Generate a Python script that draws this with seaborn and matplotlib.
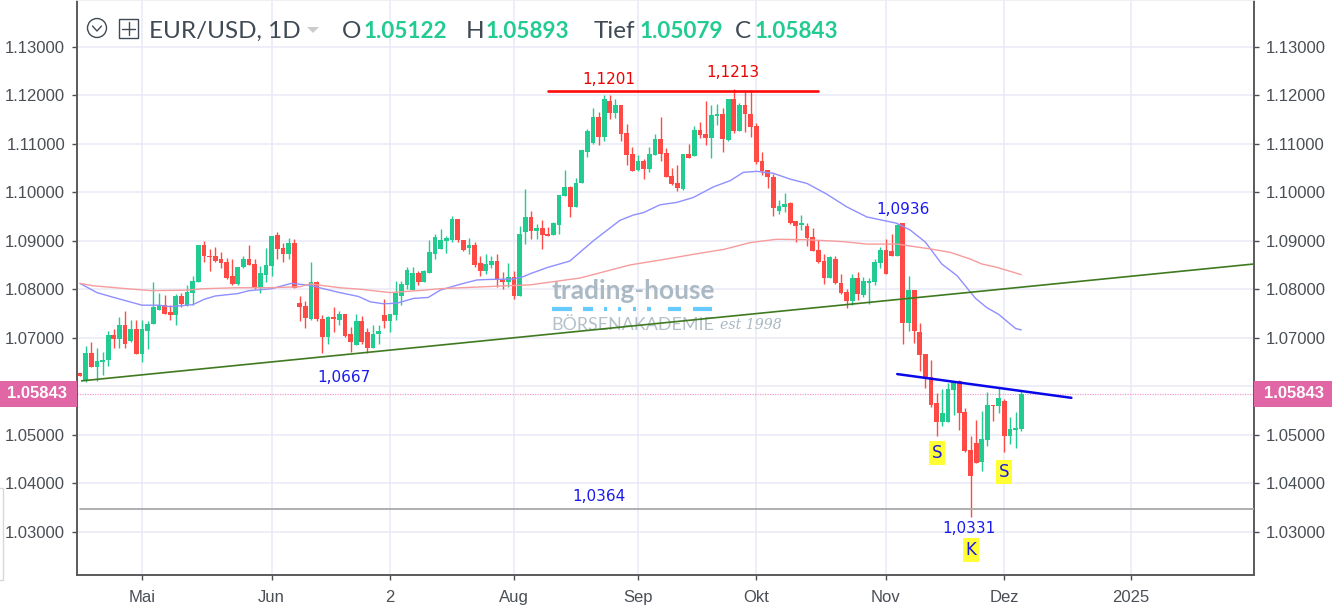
import matplotlib
matplotlib.use('Agg')
import matplotlib.pyplot as plt
import numpy as np
import pandas as pd
import seaborn as sns
from matplotlib.patches import Circle, Rectangle, Polygon
from matplotlib.transforms import Affine2D, blended_transform_factory

# Daily EUR/USD candles
opens = [
    1.0627, 1.0611, 1.0669, 1.0640, 1.0649, 1.0653, 1.0705, 1.0698, 1.0727, 1.0693,
    1.0717, 1.0666, 1.0714, 1.0728, 1.0758, 1.0768, 1.0752, 1.0747, 1.0785, 1.0768,
    1.0792, 1.0815, 1.0892, 1.0869, 1.0869, 1.0862, 1.0856, 1.0827, 1.0810, 1.0846,
    1.0862, 1.0852, 1.0802, 1.0830, 1.0848, 1.0912, 1.0885, 1.0872, 1.0895, 1.0772,
    1.0765, 1.0739, 1.0814, 1.0739, 1.0701, 1.0743, 1.0737, 1.0749, 1.0707, 1.0685,
    1.0734, 1.0711, 1.0678, 1.0708, 1.0746, 1.0734, 1.0746, 1.0787, 1.0808, 1.0798,
    1.0833, 1.0815, 1.0834, 1.0873, 1.0883, 1.0899, 1.0901, 1.0944, 1.0901, 1.0885,
    1.0891, 1.0853, 1.0837, 1.0850, 1.0859, 1.0821, 1.0815, 1.0826, 1.0786, 1.0917,
    1.0949, 1.0921, 1.0927, 1.0913, 1.0911, 1.0933, 1.0993, 1.1011, 1.0969, 1.1020,
    1.1082, 1.1102, 1.1156, 1.1114, 1.1188, 1.1163, 1.1179, 1.1123, 1.1079, 1.1046,
    1.1065, 1.1048, 1.1076, 1.1110, 1.1081, 1.1033, 1.1020, 1.1007, 1.1078, 1.1075,
    1.1129, 1.1121, 1.1112, 1.1157, 1.1162, 1.1107, 1.1192, 1.1127, 1.1179, 1.1161,
    1.1136, 1.1065, 1.1046, 1.1032, 1.0962, 1.0970, 1.0977, 1.0940, 1.0932, 1.0930,
    1.0907, 1.0881, 1.0859, 1.0824, 1.0863, 1.0813, 1.0795, 1.0776, 1.0824, 1.0788,
    1.0812, 1.0814, 1.0854, 1.0881, 1.0879, 1.0869, 1.0936, 1.0731, 1.0798, 1.0712,
    1.0666, 1.0618, 1.0566, 1.0527, 1.0527, 1.0592, 1.0610, 1.0547, 1.0469, 1.0482,
    1.0444, 1.0489, 1.0562, 1.0560, 1.0570, 1.0498, 1.0509, 1.05122,
]
highs = [
    1.0627, 1.0682, 1.0691, 1.0678, 1.0671, 1.0714, 1.0717, 1.0743, 1.0755, 1.0736,
    1.0736, 1.0736, 1.0734, 1.0814, 1.0792, 1.0788, 1.0767, 1.0790, 1.0792, 1.0808,
    1.0827, 1.0892, 1.0899, 1.0883, 1.0888, 1.0876, 1.0865, 1.0862, 1.0846, 1.0869,
    1.0892, 1.0862, 1.0847, 1.0884, 1.0910, 1.0917, 1.0895, 1.0905, 1.0903, 1.0785,
    1.0775, 1.0856, 1.0817, 1.0746, 1.0745, 1.0763, 1.0756, 1.0749, 1.0723, 1.0749,
    1.0745, 1.0720, 1.0727, 1.0727, 1.0779, 1.0749, 1.0817, 1.0817, 1.0846, 1.0846,
    1.0838, 1.0840, 1.0901, 1.0914, 1.0924, 1.0909, 1.0950, 1.0944, 1.0901, 1.0905,
    1.0898, 1.0869, 1.0872, 1.0869, 1.0872, 1.0836, 1.0853, 1.0837, 1.0931, 1.1007,
    1.0962, 1.0935, 1.0942, 1.0929, 1.0938, 1.0995, 1.1046, 1.1013, 1.1029, 1.1088,
    1.1131, 1.1174, 1.1165, 1.1201, 1.1200, 1.1192, 1.1179, 1.1141, 1.1094, 1.1076,
    1.1069, 1.1094, 1.1121, 1.1156, 1.1091, 1.1049, 1.1056, 1.1078, 1.1100, 1.1136,
    1.1145, 1.1188, 1.1179, 1.1181, 1.1174, 1.1192, 1.1213, 1.1183, 1.1207, 1.1210,
    1.1143, 1.1082, 1.1046, 1.1038, 1.0984, 1.0998, 1.0979, 1.0940, 1.0952, 1.0936,
    1.0926, 1.0901, 1.0872, 1.0869, 1.0869, 1.0832, 1.0800, 1.0831, 1.0836, 1.0825,
    1.0824, 1.0862, 1.0888, 1.0903, 1.0913, 1.0935, 1.0937, 1.0828, 1.0798, 1.0730,
    1.0666, 1.0655, 1.0585, 1.0595, 1.0607, 1.0609, 1.0613, 1.0556, 1.0497, 1.0530,
    1.0549, 1.0588, 1.0562, 1.0598, 1.0573, 1.0537, 1.0547, 1.05893,
]
lows = [
    1.0620, 1.0608, 1.0640, 1.0611, 1.0624, 1.0641, 1.0678, 1.0678, 1.0678, 1.0691,
    1.0666, 1.0649, 1.0676, 1.0728, 1.0757, 1.0748, 1.0736, 1.0727, 1.0763, 1.0765,
    1.0768, 1.0815, 1.0856, 1.0837, 1.0856, 1.0843, 1.0822, 1.0808, 1.0808, 1.0844,
    1.0850, 1.0801, 1.0792, 1.0814, 1.0827, 1.0862, 1.0856, 1.0862, 1.0802, 1.0734,
    1.0720, 1.0736, 1.0735, 1.0669, 1.0688, 1.0711, 1.0727, 1.0701, 1.0671, 1.0685,
    1.0688, 1.0669, 1.0678, 1.0688, 1.0720, 1.0711, 1.0736, 1.0767, 1.0801, 1.0798,
    1.0808, 1.0815, 1.0834, 1.0862, 1.0883, 1.0874, 1.0897, 1.0897, 1.0879, 1.0872,
    1.0846, 1.0827, 1.0831, 1.0843, 1.0805, 1.0801, 1.0805, 1.0779, 1.0786, 1.0893,
    1.0904, 1.0904, 1.0882, 1.0909, 1.0911, 1.0913, 1.0993, 1.0949, 1.0969, 1.1020,
    1.1072, 1.1100, 1.1098, 1.1105, 1.1151, 1.1152, 1.1105, 1.1056, 1.1044, 1.1043,
    1.1027, 1.1041, 1.1076, 1.1065, 1.1031, 1.1015, 1.1002, 1.1005, 1.1070, 1.1075,
    1.1112, 1.1098, 1.1070, 1.1138, 1.1083, 1.1105, 1.1123, 1.1127, 1.1124, 1.1114,
    1.1058, 1.1036, 1.1008, 1.0950, 1.0955, 1.0959, 1.0934, 1.0898, 1.0923, 1.0889,
    1.0878, 1.0853, 1.0810, 1.0824, 1.0810, 1.0790, 1.0761, 1.0768, 1.0777, 1.0783,
    1.0770, 1.0808, 1.0843, 1.0831, 1.0869, 1.0869, 1.0686, 1.0714, 1.0689, 1.0631,
    1.0596, 1.0557, 1.0498, 1.0518, 1.0527, 1.0540, 1.0509, 1.0464, 1.0331, 1.0441,
    1.0425, 1.0476, 1.0528, 1.0544, 1.0464, 1.0481, 1.0473, 1.05079,
]
closes = [
    1.0620, 1.0669, 1.0640, 1.0652, 1.0655, 1.0705, 1.0698, 1.0727, 1.0688, 1.0717,
    1.0666, 1.0717, 1.0729, 1.0763, 1.0768, 1.0749, 1.0747, 1.0785, 1.0769, 1.0795,
    1.0817, 1.0892, 1.0868, 1.0867, 1.0859, 1.0854, 1.0823, 1.0810, 1.0846, 1.0862,
    1.0850, 1.0802, 1.0833, 1.0850, 1.0910, 1.0883, 1.0872, 1.0895, 1.0802, 1.0763,
    1.0740, 1.0814, 1.0738, 1.0701, 1.0743, 1.0738, 1.0749, 1.0704, 1.0691, 1.0734,
    1.0691, 1.0679, 1.0707, 1.0714, 1.0734, 1.0749, 1.0792, 1.0810, 1.0840, 1.0833,
    1.0815, 1.0837, 1.0876, 1.0908, 1.0901, 1.0905, 1.0944, 1.0901, 1.0881, 1.0891,
    1.0850, 1.0837, 1.0852, 1.0859, 1.0819, 1.0815, 1.0826, 1.0786, 1.0914, 1.0949,
    1.0920, 1.0927, 1.0911, 1.0910, 1.0936, 1.0995, 1.1010, 1.0969, 1.1020, 1.1086,
    1.1127, 1.1156, 1.1114, 1.1192, 1.1163, 1.1179, 1.1121, 1.1076, 1.1044, 1.1065,
    1.1047, 1.1078, 1.1110, 1.1078, 1.1031, 1.1017, 1.1009, 1.1078, 1.1070, 1.1129,
    1.1118, 1.1112, 1.1159, 1.1162, 1.1109, 1.1192, 1.1127, 1.1179, 1.1161, 1.1134,
    1.1063, 1.1043, 1.1031, 1.0967, 1.0972, 1.0975, 1.0936, 1.0930, 1.0937, 1.0906,
    1.0879, 1.0856, 1.0824, 1.0867, 1.0812, 1.0792, 1.0776, 1.0824, 1.0791, 1.0817,
    1.0817, 1.0857, 1.0881, 1.0831, 1.0869, 1.0933, 1.0731, 1.0798, 1.0714, 1.0664,
    1.0617, 1.0562, 1.0527, 1.0544, 1.0595, 1.0609, 1.0544, 1.0466, 1.0414, 1.0441,
    1.0492, 1.0562, 1.0559, 1.0576, 1.0498, 1.0511, 1.0514, 1.05843,
]

# Moving averages, x is the candle number
ma_blue_x = [0, 3, 6, 11, 14, 16, 20, 22, 24, 28, 30, 34, 37.5, 40.8, 43.2, 46.1, 49.4, 51.5, 53.8, 56.2,
             59.2, 61.8, 63.9, 67.4, 70.4, 72.2, 76.9, 78.7, 79.9, 83, 86.9, 91.1, 95.8, 98.2, 100, 102.9,
             105.9, 108.8, 112.4, 115.4, 117.7, 120.1, 123, 126, 129, 132.5, 136, 139.6, 144.9, 147.3, 150,
             152.9, 155.6, 158.9, 160.9, 163, 166, 167]
ma_blue_y = [1.0812, 1.0793, 1.0783, 1.0767, 1.0767, 1.0764, 1.0768, 1.0779, 1.0786, 1.0791, 1.0797, 1.0801,
             1.0812, 1.0808, 1.0801, 1.0793, 1.0785, 1.0774, 1.0770, 1.0771, 1.0781, 1.0783, 1.0798, 1.0810,
             1.0819, 1.0820, 1.0821, 1.0826, 1.0832, 1.0845, 1.0858, 1.0900, 1.0942, 1.0953, 1.0958, 1.0974,
             1.0979, 1.0989, 1.1011, 1.1024, 1.1041, 1.1043, 1.1039, 1.1027, 1.1018, 1.0996, 1.0970, 1.0949,
             1.0936, 1.0922, 1.0897, 1.0852, 1.0828, 1.0781, 1.0762, 1.0748, 1.0719, 1.0716]
ma_red_x = [0, 2.4, 8.3, 12.7, 18.9, 21.9, 27.8, 33.7, 39, 40.8, 46.1, 49.7, 55, 61, 63.9, 71.6, 79.9, 88.7,
            97.6, 102.9, 109.4, 114.2, 118.9, 123.6, 129, 135.5, 139.6, 145, 147.3, 150.9, 154.4, 158, 160,
            162.7, 167]
ma_red_y = [1.0812, 1.0807, 1.0801, 1.0797, 1.0798, 1.0801, 1.0803, 1.0803, 1.0805, 1.0811, 1.0803, 1.0800,
            1.0793, 1.0798, 1.0801, 1.0805, 1.0809, 1.0823, 1.0850, 1.0860, 1.0873, 1.0882, 1.0896, 1.0903,
            1.0902, 1.0898, 1.0893, 1.0893, 1.0889, 1.0883, 1.0876, 1.0862, 1.0852, 1.0845, 1.0830]

# Drawn trend lines: (x0, x1), (y0, y1)
trend_green = ([0.3, 208.3], [1.0611, 1.0852])
resistance_red = ([83, 131], [1.1208, 1.1208])
neckline_blue = ([145, 175.9], [1.0625, 1.0576])
support_grey = ([0, 208.3], [1.0346, 1.0346])
last_price = 1.05843

price_ticks = [1.03, 1.04, 1.05, 1.06, 1.07, 1.08, 1.09, 1.10, 1.11, 1.12, 1.13]
price_tick_labels = ['1.03000', '1.04000', '1.05000', '', '1.07000', '1.08000', '1.09000',
                     '1.10000', '1.11000', '1.12000', '1.13000']
month_ticks = [11, 34, 55, 77, 99, 120, 143, 164, 186.4]
month_labels = ['Mai', 'Jun', '2', 'Aug', 'Sep', 'Okt', 'Nov', 'Dez', '2025']

notes_red = [(93.9, 1.1233, '1,1201'), (115.9, 1.1246, '1,1213')]
notes_blue = [(146, 1.0965, '1,0936'), (46.8, 1.0617, '1,0667'), (92, 1.0372, '1,0364'), (157.8, 1.0306, '1,0331')]
notes_yellow = [(152.1, 1.0462, 'S'), (164, 1.0423, 'S'), (158.1, 1.0262, 'K')]

GREEN = '#22cb90'
RED = '#ff4a45'
INK = '#4a4f55'

sns.set_theme(style='white')
plt.rcParams['font.family'] = ['Liberation Sans', 'DejaVu Sans']

df = pd.DataFrame({'open': opens, 'high': highs, 'low': lows, 'close': closes})
df['i'] = np.arange(len(df))
df['colour'] = np.where(df['close'] >= df['open'], GREEN, RED)

fig = plt.figure(figsize=(13.32, 6.10), dpi=100)
ax = fig.add_axes([77 / 1332, 35 / 610, 1177 / 1332, 575 / 610])

# candles
ax.vlines(df['i'], df['low'], df['high'], colors=df['colour'], linewidth=1.0, zorder=3)
ax.bar(df['i'], df['close'] - df['open'], bottom=df['open'], width=0.84, color=df['colour'], linewidth=0, zorder=3)

# moving averages
sns.lineplot(x=ma_blue_x, y=ma_blue_y, ax=ax, color='#8f8fff', linewidth=1.0, estimator=None, sort=False, zorder=4)
sns.lineplot(x=ma_red_x, y=ma_red_y, ax=ax, color='#f79c9c', linewidth=1.0, estimator=None, sort=False, zorder=4)

# trend lines
ax.plot(*trend_green, color='#3f7a20', linewidth=1.2, zorder=5)
ax.plot(*resistance_red, color='#ff0a0a', linewidth=1.9, zorder=5)
ax.plot(*neckline_blue, color='#0808e8', linewidth=1.8, zorder=5)
ax.plot(*support_grey, color='#a9a9a9', linewidth=1.3, zorder=5)
ax.axhline(last_price, color='#f2a0d0', linewidth=0.9, linestyle=(0, (1, 1)), zorder=2)

ax.set_xlim(-0.53, 208.3)
ax.set_ylim(1.02107, 1.13963)
ax.set_yticks(price_ticks)
ax.set_yticklabels(price_tick_labels)
ax.set_xticks(month_ticks)
ax.set_xticklabels(month_labels)
ax.grid(True, color='#e9e9f7', linewidth=1.1, zorder=0)
ax.set_axisbelow(True)
ax.tick_params(axis='y', which='both', left=True, right=True, labelleft=True, labelright=True,
               length=3.6, width=1, color=INK, labelcolor=INK, labelsize=12, pad=5)
ax.tick_params(axis='x', bottom=True, length=3.6, width=1, color=INK, labelcolor=INK, labelsize=12, pad=7)
for side in ['left', 'right', 'bottom']:
    ax.spines[side].set_color('#5a5a5a')
    ax.spines[side].set_linewidth(1.4)
ax.spines['top'].set_color('#eeeeee')

# last price boxes on both sides
side_tf = blended_transform_factory(ax.transAxes, ax.transData)
box_h = 0.0053
for x0, w in [(-0.0654, 0.0654), (1.0, 0.0663)]:
    ax.add_patch(Rectangle((x0, last_price - box_h / 2), w, box_h, transform=side_tf,
                           facecolor='#e066a6', edgecolor='none', clip_on=False, zorder=6))
    ax.text(x0 + w / 2 + (0.0005 if x0 > 0 else -0.0015), last_price, '1.05843', transform=side_tf, color='white',
            fontsize=12, ha='center', va='center', fontweight='bold', zorder=7)

# notes on the chart
for x, y, s in notes_red:
    ax.text(x, y, s, color='#ee0000', fontsize=11, family='DejaVu Sans', ha='center', va='center', zorder=8)
for x, y, s in notes_blue:
    ax.text(x, y, s, color='#1a1aee', fontsize=11, family='DejaVu Sans', ha='center', va='center', zorder=8)
for x, y, s in notes_yellow:
    ax.text(x, y, s, color='#1a1ae0', fontsize=12, family='DejaVu Sans', ha='center', va='center', zorder=8,
            bbox=dict(facecolor='#ffff33', edgecolor='none', pad=2))

# everything below is placed in picture pixels, y from the top
px = Affine2D().scale(1, -1).translate(0, 610)

# watermark
ax.text(551, 291, 'trading-house', transform=px, family='Lato', fontweight='bold', fontsize=18.9,
        color='#aab9c3', ha='left', va='center', zorder=2)
for x0, x1 in [(552, 572), (583, 593), (604, 607), (618, 621), (633, 636), (647, 651), (668, 681), (693, 712)]:
    ax.plot([x0, x1], [308.5, 308.5], transform=px, color='#66ccff', linewidth=3, solid_capstyle='butt', zorder=2,
            scalex=False, scaley=False)
ax.text(551, 325, 'BÖRSENAKADEMIE', transform=px, family='Lato', fontsize=12.9, color='#b4c1ca',
        ha='left', va='center', zorder=2)
ax.text(720, 325, 'est 1998', transform=px, family='DejaVu Serif', style='italic', fontsize=10.2,
        color='#aab9c3', ha='left', va='center', zorder=2)

# header
HEAD = '#3f4a54'
head_labels = [(149, 'EUR/USD, 1D'), (342, 'O'), (466, 'H'), (594, 'Tief'), (735, 'C')]
head_values = [(364, '1.05122'), (486, '1.05893'), (640, '1.05079'), (755, '1.05843')]
for x, s in head_labels:
    ax.text(x, 31, s, transform=px, family='Lato', fontsize=17.5, color=HEAD, ha='left', va='center', zorder=9)
for x, s in head_values:
    ax.text(x, 31, s, transform=px, family='Lato', fontsize=16.2, color=GREEN, fontweight='bold',
            ha='left', va='center', zorder=9)

ax.add_patch(Circle((97, 28), 9.5, transform=px, fill=False, edgecolor=HEAD, linewidth=1, zorder=9))
ax.plot([92.5, 97, 101.5], [26, 31, 26], transform=px, color=HEAD, linewidth=1, zorder=9, scalex=False, scaley=False)
ax.add_patch(Rectangle((119, 19), 19, 19, transform=px, fill=False, edgecolor=HEAD, linewidth=1, zorder=9))
ax.plot([128.5, 128.5], [22, 35], transform=px, color=HEAD, linewidth=1, zorder=9, scalex=False, scaley=False)
ax.plot([122, 135], [28.5, 28.5], transform=px, color=HEAD, linewidth=1, zorder=9, scalex=False, scaley=False)
ax.add_patch(Polygon([(307, 27), (319, 27), (313, 33)], transform=px, facecolor='#cccccc', edgecolor='none', zorder=9))

# leftover frame at the lower left edge
ax.add_patch(Rectangle((-2, 488), 5, 92, transform=px, fill=False, edgecolor='#d8d8d8', linewidth=1,
                       clip_on=False, zorder=1))

fig.savefig('out.png', dpi=100)
